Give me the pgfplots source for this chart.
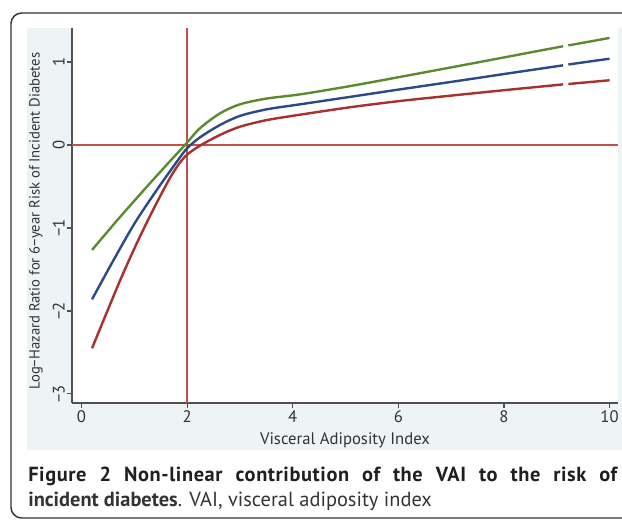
\documentclass[border=0pt]{standalone}
\usepackage{pgfplots}
\pgfplotsset{compat=1.18}
\usepackage{fontspec}
\setmainfont{PT Sans}
\definecolor{bgc}{HTML}{EEF3F5}
\definecolor{gc}{HTML}{5B8A2F}
\definecolor{bc}{HTML}{2A4A8A}
\definecolor{rc}{HTML}{A8302F}
\definecolor{refc}{HTML}{C4504C}
\definecolor{axc}{HTML}{505050}
\definecolor{txc}{HTML}{333333}
\begin{document}
\begin{tikzpicture}[x=0.75pt,y=0.75pt]
\path[use as bounding box] (0,0) rectangle (622,521);
\clip (0,0) rectangle (622,521);
\fill[bgc] (27,71) rectangle (630,493);
\draw[line width=1.1pt, black!80, rounded corners=8pt] (11,3) rectangle (660,508);
\begin{axis}[
  at={(54pt,88.5pt)}, anchor=south west,
  scale only axis, width=409.5pt, height=281.25pt,
  xmin=-0.18, xmax=10.16, ymin=-3.11, ymax=1.41,
  axis lines=left, axis line style={-, axc, line width=0.9pt},
  axis background/.style={fill=white},
  tick align=outside, major tick length=3.75pt,
  tick style={axc, line width=0.9pt},
  xtick={0,2,4,6,8,10}, xticklabels={0,2,4,6,8,10},
  ytick={-3,-2,-1,0,1}, yticklabels={−3,−2,−1,0,1},
  ticklabel style={font=\fontsize{12.5}{14}\selectfont, text=txc},
  yticklabel style={rotate=90, anchor=south, inner sep=1.5pt},
  xticklabel style={inner sep=1.5pt},
  xlabel={Visceral Adiposity Index},
  ylabel={Log−Hazard Ratio for 6−year Risk of Incident Diabetes},
  xlabel style={font=\fontsize{12.5}{14}\selectfont, text=txc, at={(axis description cs:0.5,-0.099)}, anchor=center},
  ylabel style={font=\fontsize{11}{13}\selectfont, text=txc, at={(axis description cs:-0.066,0.485)}, anchor=center},
]
\addplot[draw=refc, line width=1pt] coordinates {(2,-3.11) (2,1.41)};
\addplot[draw=refc, line width=1pt] coordinates {(-0.18,0) (10.16,0)};
\addplot[gc, line width=1.8pt, smooth] coordinates {
(0.2,-1.265) (0.7,-0.89) (1.2,-0.53) (1.64,-0.22) (1.96,0.0) (2.24,0.20)
(2.62,0.38) (3.0,0.49) (3.51,0.56) (4.14,0.61) (5.09,0.71) (6.03,0.82)
(7.0,0.935) (8.0,1.055) (9.12,1.19)};
\addplot[gc, line width=1.8pt] coordinates {(9.22,1.20) (10,1.29)};
\addplot[bc, line width=1.8pt, smooth] coordinates {
(0.2,-1.86) (0.57,-1.43) (1.01,-0.94) (1.45,-0.52) (1.83,-0.18) (2.0,-0.04)
(2.24,0.09) (2.62,0.24) (3.0,0.35) (3.51,0.43) (4.14,0.49) (5.09,0.58)
(6.03,0.67) (7.0,0.76) (8.0,0.855) (9.12,0.96)};
\addplot[bc, line width=1.8pt] coordinates {(9.22,0.97) (10,1.04)};
\addplot[rc, line width=1.8pt, smooth] coordinates {
(0.2,-2.45) (0.445,-2.07) (0.76,-1.59) (1.08,-1.14) (1.39,-0.74) (1.71,-0.36)
(1.96,-0.14) (2.24,-0.01) (2.62,0.12) (3.0,0.22) (3.51,0.30) (4.14,0.365)
(5.09,0.455) (6.03,0.53) (7.0,0.595) (8.0,0.66) (9.12,0.73)};
\addplot[rc, line width=1.8pt] coordinates {(9.22,0.735) (10,0.78)};
\end{axis}
\node[anchor=base west, inner sep=0pt, text=black!88] at (28,39)
  {\fontsize{15.3}{18}\selectfont\bfseries\addfontfeature{LetterSpace=3}\makebox[441.75pt][s]{Figure 2 Non-linear contribution of the VAI to the risk of}};
\node[anchor=base west, inner sep=0pt, text=black!80] at (28,14)
  {\fontsize{15.3}{18}\selectfont\textbf{incident diabetes}. VAI, visceral adiposity index};
\end{tikzpicture}
\end{document}
